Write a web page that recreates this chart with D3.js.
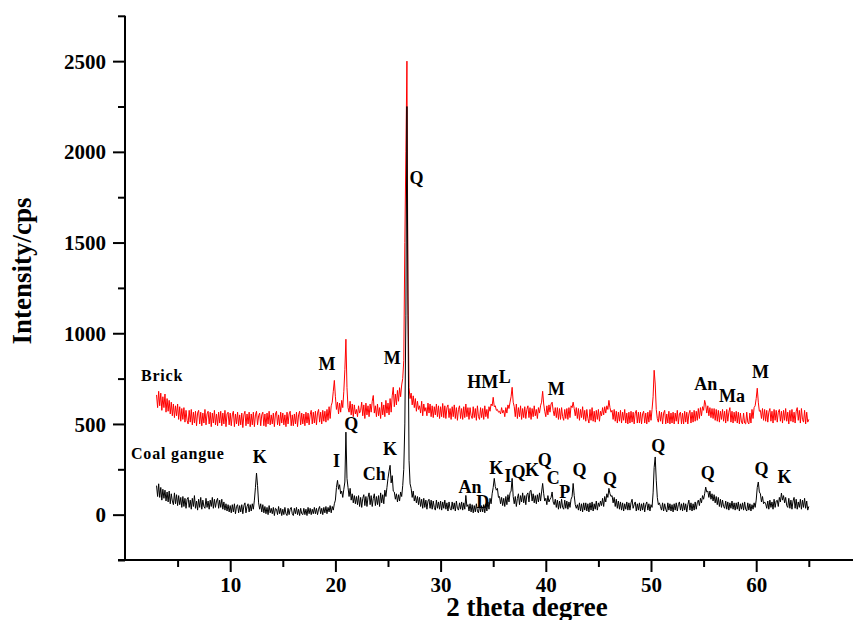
<!DOCTYPE html>
<html>
<head>
<meta charset="utf-8">
<script src="https://cdn.jsdelivr.net/npm/d3@7/dist/d3.min.js"></script>
<style>
    body { margin: 0; background: #fff; }
    svg text { font-family: "Liberation Serif", "Times New Roman", serif; font-weight: bold; }
</style>
</head>
<body>
<svg id="chart" width="853" height="620"></svg>
<script>
// scan grid: 3.0 .. 65.0 degree, 0.1 step
var thetaStart = 3.0;
var thetaStep = 0.1;

// coal gangue counts (one row = one degree)
var gangue = [
    160, 100, 170, 95, 150, 80, 140, 90, 135, 75,
    125, 70, 130, 60, 115, 75, 55, 120, 60, 110,
    50, 105, 55, 95, 40, 100, 45, 90, 35, 85,
    95, 40, 80, 30, 90, 45, 105, 35, 75, 25,
    85, 40, 95, 30, 80, 45, 35, 90, 40, 75,
    30, 80, 45, 95, 35, 85, 40, 75, 90, 35,
    80, 40, 85, 30, 70, 25, 60, 20, 55, 15,
    50, 10, 55, 15, 60, 5, 45, 55, 10, 50,
    15, 55, 5, 50, 65, 10, 45, 60, 15, 55,
    20, 60, 30, 80, 150, 229, 160, 65, 30, 60,
    15, 55, 10, 45, 5, 40, 0, 50, 10, 35,
    5, 40, -5, 35, 30, 0, 45, 5, 35, -5,
    30, 0, 40, 5, -5, 35, 0, 30, 40, 5,
    -5, 35, 5, 40, 0, 30, -5, 35, 5, 0,
    35, 0, 30, -5, 40, 5, 35, 0, 30, 5,
    40, 5, 35, 0, 30, 45, 5, 35, 0, 40,
    10, 45, 5, 40, 15, 50, 10, 45, 25, 60,
    80, 150, 189, 140, 165, 115, 130, 95, 140, 180,
    455, 200, 150, 100, 145, 80, 115, 65, 105, 60,
    100, 55, 105, 45, 95, 40, 90, 110, 50, 100,
    45, 95, 120, 55, 105, 45, 90, 115, 50, 100,
    55, 105, 45, 120, 65, 110, 60, 135, 100, 150,
    200, 240, 272, 175, 215, 130, 125, 85, 115, 70,
    110, 75, 125, 100, 160, 250, 500, 1100, 2250, 1100,
    300, 170, 145, 95, 130, 75, 105, 65, 100, 55,
    95, 45, 85, 35, 90, 40, 80, 30, 75, 85,
    35, 80, 30, 75, 40, 25, 80, 35, 70, 30,
    75, 25, 70, 35, 80, 30, 65, 20, 70, 35,
    25, 70, 30, 65, 20, 75, 35, 25, 65, 30,
    70, 25, 65, 30, 106, 45, 55, 20, 60, 15,
    55, 10, 50, 15, 60, 20, 10, 55, 15, 50,
    15, 55, 10, 60, 20, 70, 30, 90, 60, 115,
    150, 200, 155, 135, 145, 95, 100, 60, 95, 50,
    90, 45, 100, 55, 110, 70, 120, 130, 200, 100,
    60, 100, 45, 90, 115, 55, 105, 70, 120, 65,
    105, 55, 110, 120, 70, 130, 134, 75, 115, 65,
    105, 60, 110, 70, 120, 75, 125, 172, 115, 75,
    90, 55, 105, 70, 85, 95, 125, 70, 55, 85,
    40, 80, 30, 75, 35, 85, 40, 30, 80, 35,
    75, 30, 70, 40, 85, 100, 172, 105, 55, 35,
    55, 25, 65, 20, 60, 15, 65, 25, 65, 20,
    60, 15, 65, 25, 70, 20, 60, 30, 75, 25,
    65, 45, 75, 50, 90, 45, 100, 70, 115, 95,
    145, 115, 100, 105, 65, 95, 45, 85, 35, 75,
    30, 70, 25, 65, 20, 60, 30, 70, 25, 65,
    25, 65, 85, 35, 55, 70, 20, 60, 25, 65,
    20, 60, 25, 65, 15, 55, 70, 25, 60, 20,
    55, 40, 120, 260, 318, 190, 95, 55, 65, 45,
    25, 65, 20, 60, 30, 15, 65, 25, 60, 20,
    55, 15, 60, 25, 65, 20, 55, 70, 25, 60,
    20, 65, 25, 60, 15, 55, 80, 25, 65, 20,
    60, 25, 70, 30, 65, 80, 50, 90, 65, 105,
    85, 115, 152, 125, 130, 95, 130, 85, 115, 75,
    110, 65, 100, 55, 95, 45, 85, 40, 80, 45,
    35, 75, 30, 70, 25, 65, 35, 75, 30, 65,
    25, 65, 30, 70, 20, 60, 30, 65, 25, 70,
    30, 20, 65, 25, 60, 20, 55, 30, 65, 40,
    80, 150, 180, 125, 115, 70, 100, 60, 70, 60,
    35, 75, 30, 80, 40, 70, 30, 85, 40, 75,
    80, 45, 95, 70, 119, 80, 105, 65, 95, 50,
    40, 90, 35, 80, 30, 75, 95, 35, 85, 30,
    70, 40, 85, 30, 80, 40, 90, 35, 75, 25,
    45
];

// brick counts
var brick = [
    660, 590, 680, 600, 670, 575, 650, 590, 665, 565,
    640, 570, 630, 555, 620, 545, 610, 535, 600, 545,
    610, 525, 595, 515, 585, 525, 590, 510, 575, 520,
    500, 575, 510, 580, 495, 565, 505, 570, 490, 560,
    575, 500, 565, 490, 560, 505, 580, 495, 555, 570,
    500, 565, 485, 560, 505, 575, 495, 555, 490, 565,
    505, 570, 490, 560, 500, 575, 485, 555, 565, 495,
    560, 490, 550, 570, 485, 555, 500, 565, 490, 550,
    495, 560, 480, 550, 570, 490, 555, 500, 565, 485,
    555, 495, 565, 485, 550, 570, 495, 545, 560, 490,
    550, 565, 490, 555, 485, 560, 500, 570, 495, 550,
    500, 560, 485, 555, 570, 495, 550, 490, 565, 505,
    560, 495, 550, 485, 565, 500, 555, 570, 490, 550,
    490, 555, 500, 565, 485, 550, 570, 495, 560, 500,
    555, 490, 565, 505, 560, 495, 550, 575, 500, 565,
    505, 570, 495, 560, 580, 510, 565, 500, 575, 515,
    570, 510, 580, 520, 595, 530, 600, 620, 680, 740,
    650, 580, 620, 555, 615, 565, 630, 590, 680, 800,
    967, 700, 590, 565, 625, 550, 610, 540, 605, 555,
    580, 540, 600, 560, 575, 620, 545, 605, 530, 615,
    550, 600, 540, 610, 565, 625, 657, 560, 600, 540,
    610, 545, 590, 530, 620, 550, 605, 540, 630, 560,
    615, 550, 640, 565, 655, 702, 595, 665, 605, 685,
    625, 700, 650, 715, 750, 850, 1500, 2000, 2500, 1200,
    700, 640, 670, 605, 655, 590, 640, 570, 625, 580,
    600, 560, 625, 545, 610, 570, 590, 545, 615, 560,
    610, 540, 600, 535, 595, 550, 610, 540, 600, 530,
    595, 540, 613, 535, 600, 530, 590, 605, 535, 585,
    525, 595, 540, 605, 530, 590, 520, 580, 600, 530,
    585, 525, 595, 535, 610, 540, 590, 525, 590, 545,
    530, 595, 535, 585, 520, 600, 540, 525, 590, 535,
    585, 525, 600, 540, 580, 530, 595, 570, 610, 600,
    647, 595, 600, 575, 580, 565, 570, 555, 590, 560,
    575, 540, 590, 560, 605, 585, 620, 650, 702, 620,
    595, 540, 610, 530, 590, 540, 600, 525, 585, 535,
    595, 530, 580, 600, 535, 590, 525, 585, 540, 600,
    545, 580, 530, 590, 560, 600, 620, 680, 610, 570,
    540, 600, 550, 605, 565, 610, 620, 575, 545, 590,
    535, 590, 525, 585, 525, 590, 540, 520, 580, 530,
    585, 525, 590, 535, 600, 590, 620, 585, 545, 590,
    530, 585, 520, 580, 535, 595, 525, 575, 515, 580,
    530, 505, 580, 520, 590, 515, 570, 510, 575, 525,
    580, 515, 570, 545, 590, 550, 595, 560, 600, 580,
    630, 590, 565, 575, 525, 580, 515, 570, 505, 565,
    515, 575, 505, 565, 520, 580, 505, 560, 500, 565,
    505, 570, 510, 565, 500, 560, 575, 505, 565, 505,
    565, 500, 555, 570, 505, 560, 500, 565, 510, 575,
    520, 580, 650, 796, 720, 580, 530, 510, 570, 515,
    565, 500, 560, 575, 500, 555, 505, 570, 500, 560,
    505, 565, 500, 560, 515, 575, 500, 555, 565, 500,
    560, 500, 570, 510, 565, 500, 555, 575, 505, 565,
    510, 575, 515, 570, 520, 585, 530, 590, 545, 595,
    575, 630, 605, 560, 600, 545, 590, 535, 585, 530,
    585, 520, 580, 515, 575, 510, 570, 525, 580, 515,
    570, 505, 580, 515, 565, 590, 510, 570, 505, 565,
    515, 570, 505, 565, 500, 560, 510, 500, 560, 505,
    500, 565, 510, 500, 560, 505, 580, 530, 590, 600,
    640, 697, 620, 570, 575, 530, 585, 520, 580, 515,
    575, 510, 565, 585, 515, 570, 505, 580, 520, 575,
    510, 565, 580, 515, 570, 505, 575, 520, 585, 515,
    565, 500, 575, 515, 580, 510, 565, 505, 570, 590,
    520, 575, 505, 585, 525, 510, 575, 500, 565, 510,
    525
];

// phase labels (text, 2theta, intensity at text baseline)
var brickLabelText = ["M", "M", "HM", "L", "M", "An", "Ma", "M"];
var brickLabelTheta = [19.2, 25.4, 34.0, 36.1, 41.0, 55.2, 57.7, 60.4];
var brickLabelInt = [795, 829, 697, 724, 660, 689, 621, 751];

var gangueLabelText = ["K", "I", "Q", "Ch", "K", "Q", "An", "D", "K", "I", "Q", "K", "Q", "C", "P", "Q", "Q", "Q", "Q", "Q", "K"];
var gangueLabelTheta = [12.8, 20.1, 21.5, 23.7, 25.2, 27.7, 32.8, 34.0, 35.3, 36.4, 37.4, 38.7, 39.9, 40.7, 41.8, 43.2, 46.1, 50.7, 55.4, 60.5, 62.7];
var gangueLabelInt = [283, 261, 468, 189, 327, 1822, 119, 36, 222, 180, 200, 211, 266, 167, 92, 211, 161, 345, 194, 220, 176];

var xMajor = [10, 20, 30, 40, 50, 60];
var xMinor = [5, 15, 25, 35, 45, 55, 65];
var yMajor = [0, 500, 1000, 1500, 2000, 2500];
var yMinor = [-250, 250, 750, 1250, 1750, 2250, 2750];

var svg = d3.select('#chart');

var x = d3.scaleLinear().domain([0, 70]).range([125, 125 + 70 * 10.52]);
var y = d3.scaleLinear().domain([-250, 2750]).range([560, 15.8]);

function toPoints(arr) {
    return arr.map(function(v, i) {
        return [thetaStart + i * thetaStep, v];
    });
}

var line = d3.line()
    .x(function(d) { return x(d[0]); })
    .y(function(d) { return y(d[1]); });

// traces: brick first, gangue on top
svg.append('path')
    .attr('d', line(toPoints(brick)))
    .attr('fill', 'none')
    .attr('stroke', '#ff0000')
    .attr('stroke-width', 1);

svg.append('path')
    .attr('d', line(toPoints(gangue)))
    .attr('fill', 'none')
    .attr('stroke', '#000')
    .attr('stroke-width', 1);

// axes
var xAxis = svg.append('g').attr('transform', 'translate(0,560)');
xAxis.call(d3.axisBottom(x).tickValues(xMajor).tickSize(12).tickSizeOuter(0).tickFormat(d3.format('d')));
xAxis.append('g').call(d3.axisBottom(x).tickValues(xMinor).tickSize(7).tickFormat(''));
xAxis.selectAll('.domain').remove();
xAxis.append('line')
    .attr('x1', 118).attr('x2', 853)
    .attr('stroke', '#000').attr('stroke-width', 2);

var yAxis = svg.append('g').attr('transform', 'translate(125,0)');
yAxis.call(d3.axisLeft(y).tickValues(yMajor).tickSize(12).tickSizeOuter(0).tickFormat(d3.format('d')));
yAxis.append('g').call(d3.axisLeft(y).tickValues(yMinor).tickSize(7).tickFormat(''));
yAxis.selectAll('.domain').remove();
yAxis.append('line')
    .attr('y1', y(2750)).attr('y2', y(-250) + 1)
    .attr('stroke', '#000').attr('stroke-width', 2);

svg.selectAll('.tick line').attr('stroke', '#000').attr('stroke-width', 2);
svg.selectAll('.tick text')
    .attr('fill', '#000')
    .style('font-family', '"Liberation Serif", "Times New Roman", serif')
    .style('font-weight', 'bold')
    .style('font-size', '21px');
xAxis.selectAll('.tick text').attr('y', 17).attr('dy', '0.71em');
yAxis.selectAll('.tick text').attr('x', -19).attr('dy', '0.34em');

// axis titles
svg.append('text')
    .attr('x', 527)
    .attr('y', 616)
    .attr('text-anchor', 'middle')
    .style('font-size', '27px')
    .text('2 theta degree');

svg.append('text')
    .attr('transform', 'translate(31,271) rotate(-90)')
    .attr('text-anchor', 'middle')
    .style('font-size', '27px')
    .text('Intensity/cps');

// sample names
svg.append('text')
    .attr('x', 141).attr('y', 381)
    .style('font-size', '16px')
    .style('letter-spacing', '0.8px')
    .text('Brick');

svg.append('text')
    .attr('x', 131).attr('y', 459)
    .style('font-size', '16px')
    .style('letter-spacing', '0.8px')
    .text('Coal gangue');

function drawLabels(texts, thetas, ints) {
    svg.append('g').selectAll('text')
        .data(texts)
        .enter()
        .append('text')
        .attr('x', function(d, i) { return x(thetas[i]); })
        .attr('y', function(d, i) { return y(ints[i]); })
        .attr('text-anchor', 'middle')
        .style('font-size', '18px')
        .text(function(d) { return d; });
}

drawLabels(brickLabelText, brickLabelTheta, brickLabelInt);
drawLabels(gangueLabelText, gangueLabelTheta, gangueLabelInt);
</script>
</body>
</html>
